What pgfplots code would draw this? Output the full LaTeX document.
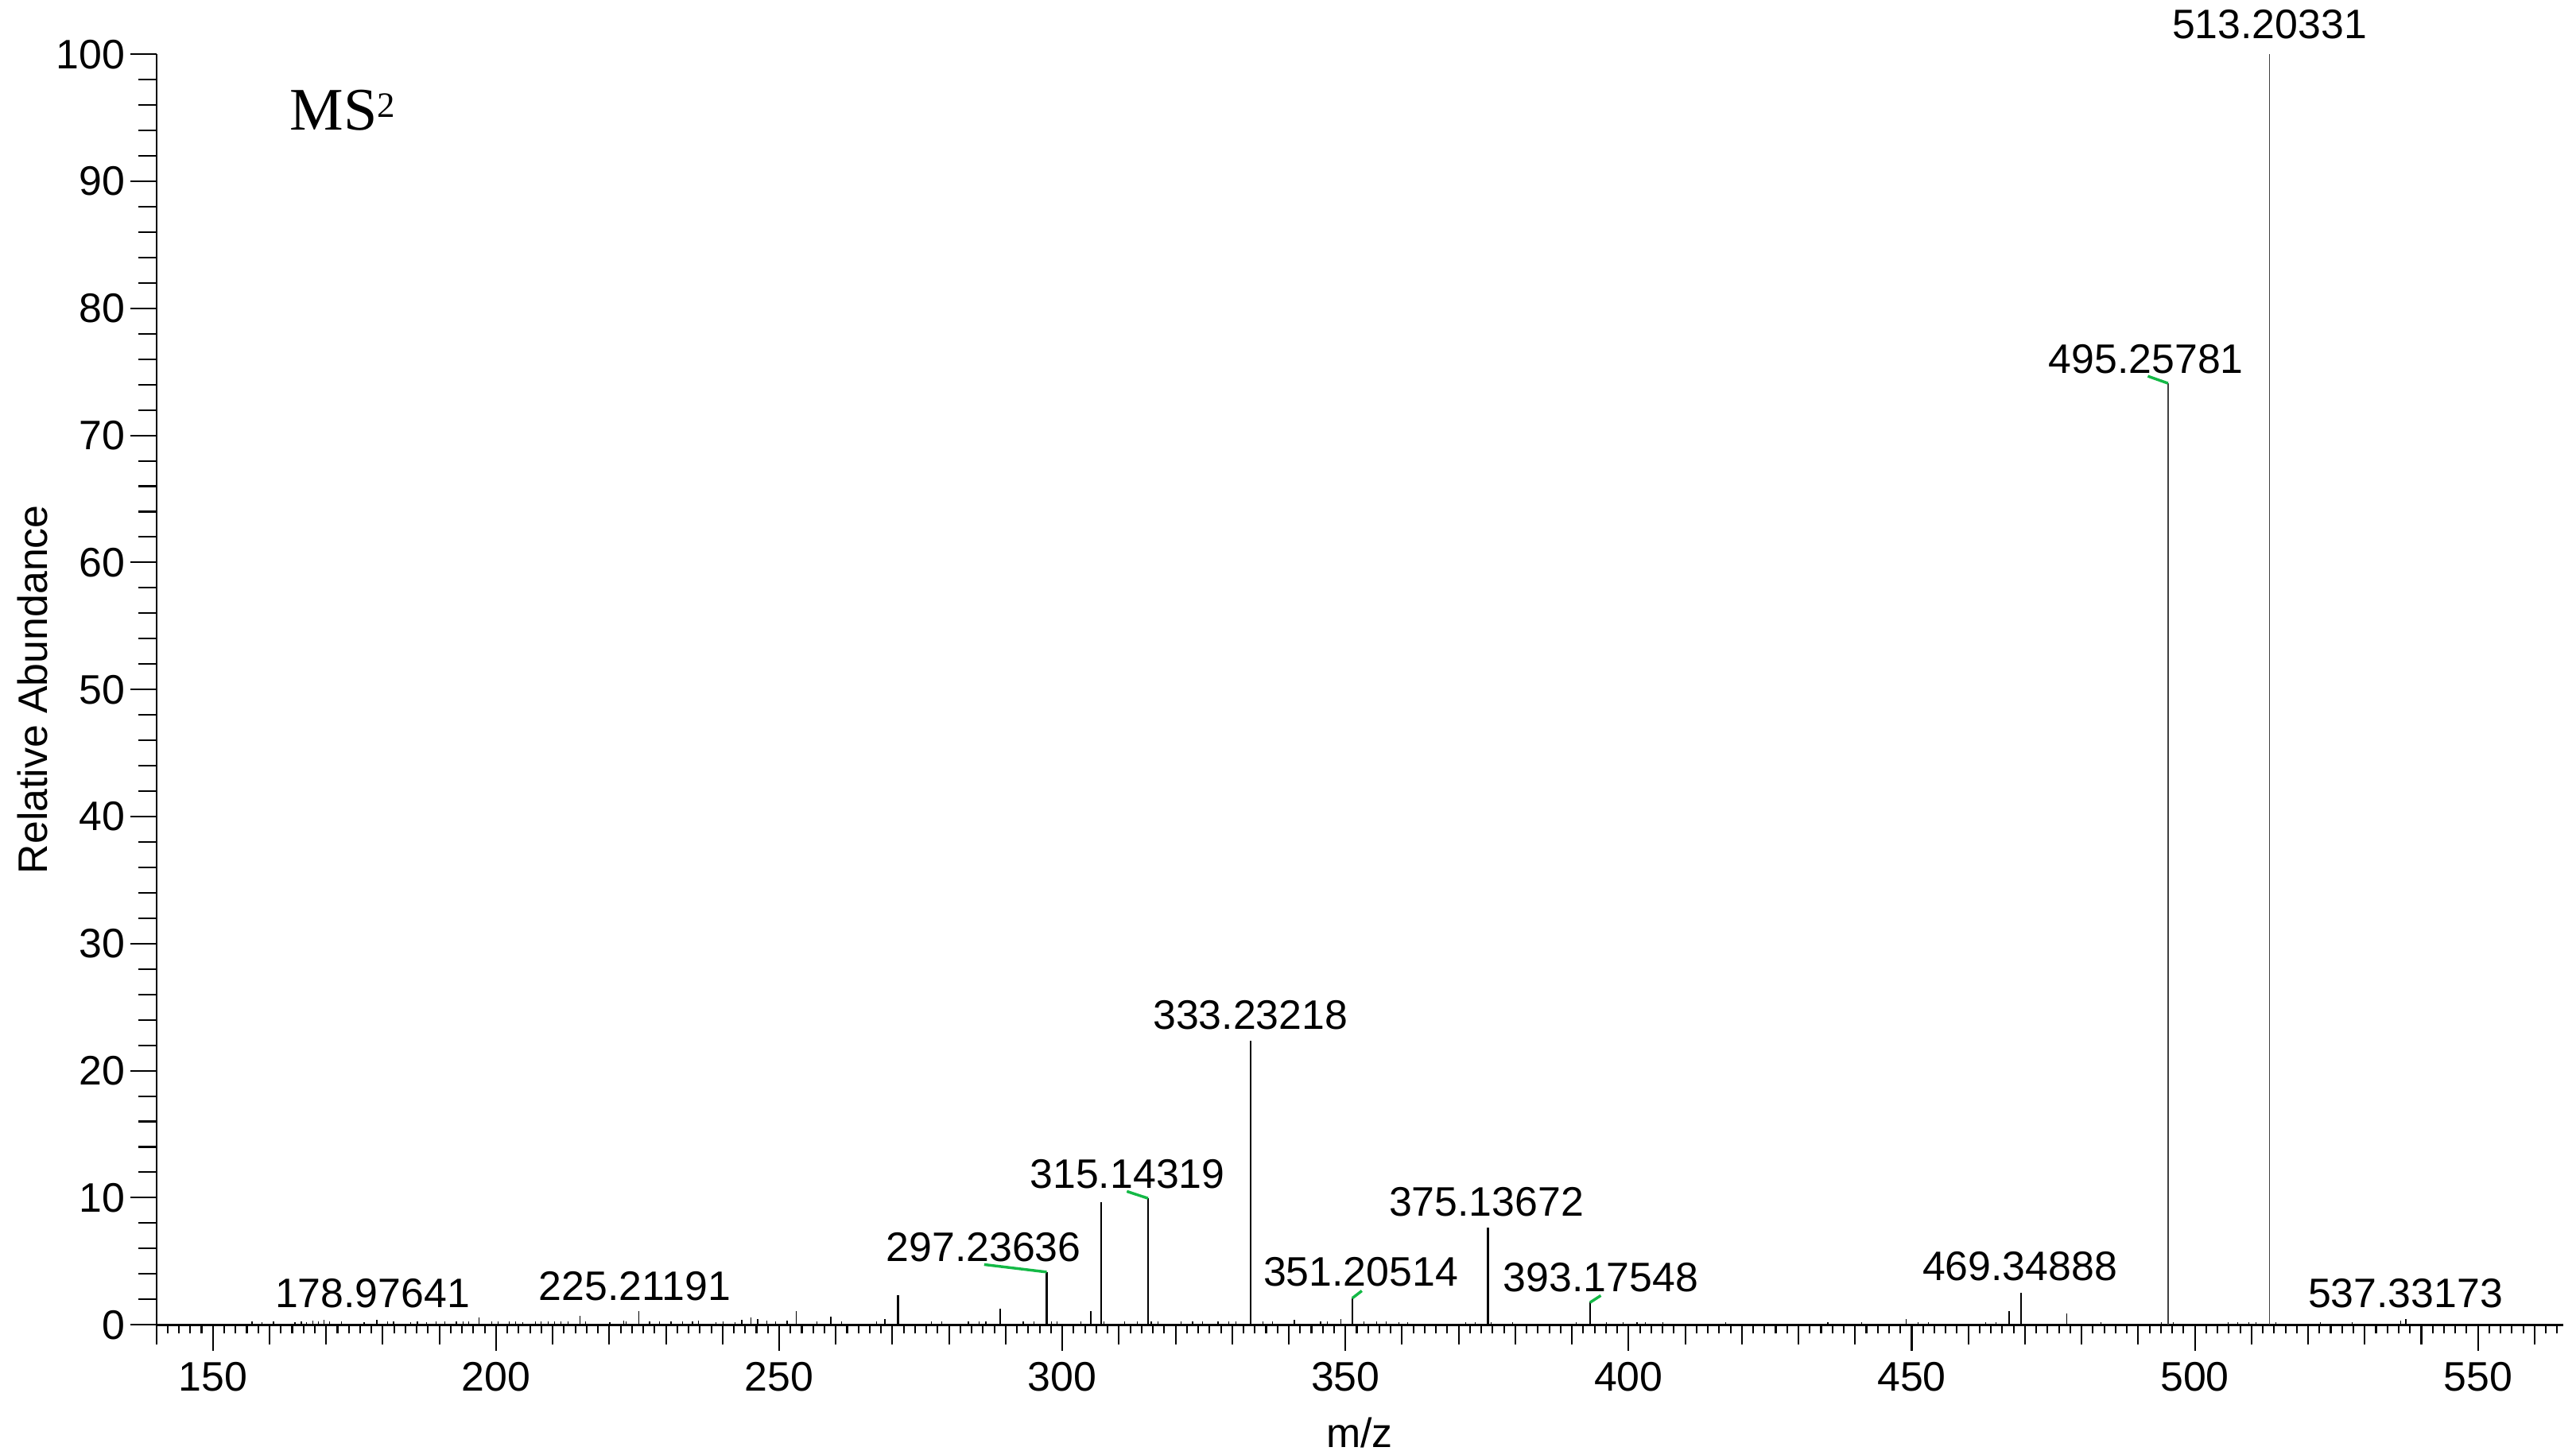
\documentclass[border=0pt]{standalone}
\usepackage{fontspec}
\setmainfont{Liberation Sans}
\newfontfamily\timesfont{Liberation Serif}
\usepackage{pgfplots}
\pgfplotsset{compat=1.18}
\definecolor{leadgreen}{RGB}{20,185,70}

\begin{document}
\begin{tikzpicture}[lbl/.style={anchor=south, inner sep=0pt, font=\fontsize{7.5}{9}\selectfont}]
\begin{axis}[
  name=ax,
  scale only axis,
  width=15.40cm, height=8.13cm,
  xmin=140, xmax=565, ymin=0, ymax=100,
  axis x line=bottom, axis y line=left,
  axis line style={-},
  x axis line style={line width=0.45pt},
  y axis line style={line width=0.3pt},
  tick align=outside,
  tick style={black, line width=0.3pt},
  major tick length=0.165cm,
  minor tick length=0.056cm,
  xtick={150,200,...,550},
  minor xtick={140,142,...,564},
  extra x ticks={140,160,170,180,190,210,220,230,240,260,270,280,290,310,320,330,340,360,370,380,390,410,420,430,440,460,470,480,490,510,520,530,540,560},
  extra x tick style={major tick length=0.124cm, xticklabel={}},
  ytick={0,10,...,100},
  extra y ticks={2,4,6,8,12,14,16,18,22,24,26,28,32,34,36,38,42,44,46,48,52,54,56,58,62,64,66,68,72,74,76,78,82,84,86,88,92,94,96,98},
  extra y tick style={major tick length=0.113cm, yticklabel={}},
  /pgf/number format/assume math mode=true,
  every tick label/.append style={font=\fontsize{7.5}{9}\selectfont},
  xticklabel style={anchor=north, inner sep=0pt, yshift=-0.07cm},
  yticklabel style={anchor=east, inner sep=0pt, xshift=-0.03cm},
  xlabel={m/z}, ylabel={Relative Abundance},
  every axis x label/.style={at={(axis description cs:0.5,0)}, anchor=center, yshift=-0.69cm, font=\fontsize{7.5}{9}\selectfont},
  every axis y label/.style={at={(axis description cs:0,0.5)}, xshift=-0.79cm, rotate=90, anchor=center, font=\fontsize{7.5}{9}\selectfont},
  clip=false,
]
% main peaks
\addplot[ycomb, black, line width=0.35pt, mark=none] coordinates {
  (271.0,2.34) (289.0,1.25) (297.24,4.15) (305.0,1.09) (306.9,9.64)
  (315.14,9.95) (333.23,22.34) (351.2,2.09) (375.14,7.62) (393.18,1.75)
  (469.35,2.50)
};
% base peak and its neighbour, drawn thinner as in the source
\addplot[ycomb, black!75, line width=0.25pt, mark=none] coordinates {
  (495.26,74.1) (513.20,100)
};
% minor peaks
\addplot[ycomb, black, line width=0.22pt, mark=none] coordinates {
  (178.98,0.40) (197.0,0.60) (214.8,0.70) (225.2,1.10) (245.0,0.60)
  (253.0,1.05) (259.1,0.63) (268.7,0.46) (341.0,0.40) (349.2,0.46)
  (449.0,0.44) (467.2,1.06) (477.4,0.88) (537.3,0.46)
};
% baseline noise
\addplot[ycomb, black, line width=0.18pt, mark=none] coordinates {
  (156.9,0.25) (158.7,0.23) (160.7,0.25) (164.5,0.23) (165.6,0.25)
  (166.5,0.23) (167.6,0.30) (168.6,0.25) (169.6,0.40) (170.6,0.24)
  (172.7,0.28) (176.7,0.23) (180.9,0.24) (181.9,0.26) (184.9,0.23)
  (186.1,0.25) (187.7,0.23) (189.4,0.26) (191.0,0.24) (193.0,0.27)
  (194.2,0.24) (195.2,0.25) (199.2,0.27) (200.4,0.24) (202.3,0.28)
  (203.5,0.25) (204.7,0.23) (207.0,0.26) (207.9,0.24) (209.2,0.27)
  (210.3,0.25) (211.5,0.24) (212.7,0.26) (215.8,0.28) (220.1,0.23)
  (222.6,0.30) (223.0,0.26) (227.1,0.25) (228.9,0.24) (230.9,0.27)
  (232.9,0.25) (234.7,0.24) (235.7,0.30) (238.8,0.23) (240.1,0.25)
  (242.2,0.23) (243.4,0.40) (246.2,0.45) (247.8,0.30) (249.4,0.26)
  (251.4,0.30) (256.7,0.28) (261.0,0.25) (267.2,0.28) (276.9,0.27)
  (278.7,0.27) (283.4,0.26) (285.3,0.27) (286.5,0.27) (293.1,0.26)
  (295.0,0.26) (298.1,0.28) (299.1,0.27) (303.3,0.27) (307.4,0.27)
  (311.0,0.27) (313.3,0.27) (315.7,0.27) (316.9,0.27) (321.0,0.27)
  (323.0,0.27) (324.8,0.27) (327.5,0.27) (329.4,0.27) (330.7,0.27)
  (335.4,0.27) (337.1,0.27) (345.6,0.27) (346.8,0.27) (353.3,0.27)
  (355.5,0.27) (357.2,0.27) (359.4,0.23) (361.0,0.23) (371.2,0.23)
  (372.9,0.23) (375.7,0.23) (379.5,0.23) (390.8,0.23) (396.1,0.23)
  (399.0,0.23) (401.5,0.23) (403.0,0.23) (406.1,0.23) (417.2,0.23)
  (435.2,0.23) (441.2,0.23) (451.1,0.23) (452.9,0.23) (463.1,0.23)
  (464.9,0.23) (483.4,0.23) (494.1,0.23) (496.2,0.23) (505.9,0.23)
  (507.6,0.23) (509.5,0.23) (510.8,0.23) (514.3,0.23) (522.2,0.23)
  (527.8,0.23) (536.4,0.30)
};
% peak annotations
\node[lbl] at (axis cs:513.2,101.1) {513.20331};
\node[lbl] at (axis cs:491.4,74.8) {495.25781};
\node[lbl] at (axis cs:333.23,23.17) {333.23218};
\node[lbl] at (axis cs:311.5,10.64) {315.14319};
\node[lbl] at (axis cs:286.1,4.90) {297.23636};
\node[lbl] at (axis cs:374.9,8.45) {375.13672};
\node[lbl] at (axis cs:352.7,2.92) {351.20514};
\node[lbl] at (axis cs:395.1,2.50) {393.17548};
\node[lbl] at (axis cs:469.1,3.34) {469.34888};
\node[lbl] at (axis cs:537.2,1.25) {537.33173};
\node[lbl] at (axis cs:178.2,1.21) {178.97641};
\node[lbl] at (axis cs:224.5,1.82) {225.21191};
\draw[leadgreen, line width=0.5pt] (axis cs:491.7,74.66) -- (axis cs:495.26,74.1);
\draw[leadgreen, line width=0.5pt] (axis cs:311.4,10.50) -- (axis cs:315.14,9.95);
\draw[leadgreen, line width=0.5pt] (axis cs:286.2,4.74) -- (axis cs:297.24,4.15);
\draw[leadgreen, line width=0.5pt] (axis cs:351.2,2.09) -- (axis cs:352.9,2.67);
\draw[leadgreen, line width=0.5pt] (axis cs:393.18,1.75) -- (axis cs:395.1,2.30);
\node[anchor=base west, inner sep=0pt, font=\timesfont\fontsize{11}{13}\selectfont] at (axis cs:163.4,94.05) {MS\raisebox{0.45ex}{\fontsize{6.5}{8}\selectfont 2}};
\end{axis}
\pgfresetboundingbox
\path[use as bounding box] ([xshift=-1.0cm, yshift=-0.83cm]ax.south west) rectangle ([xshift=0.084cm, yshift=0.347cm]ax.north east);
\end{tikzpicture}
\end{document}
